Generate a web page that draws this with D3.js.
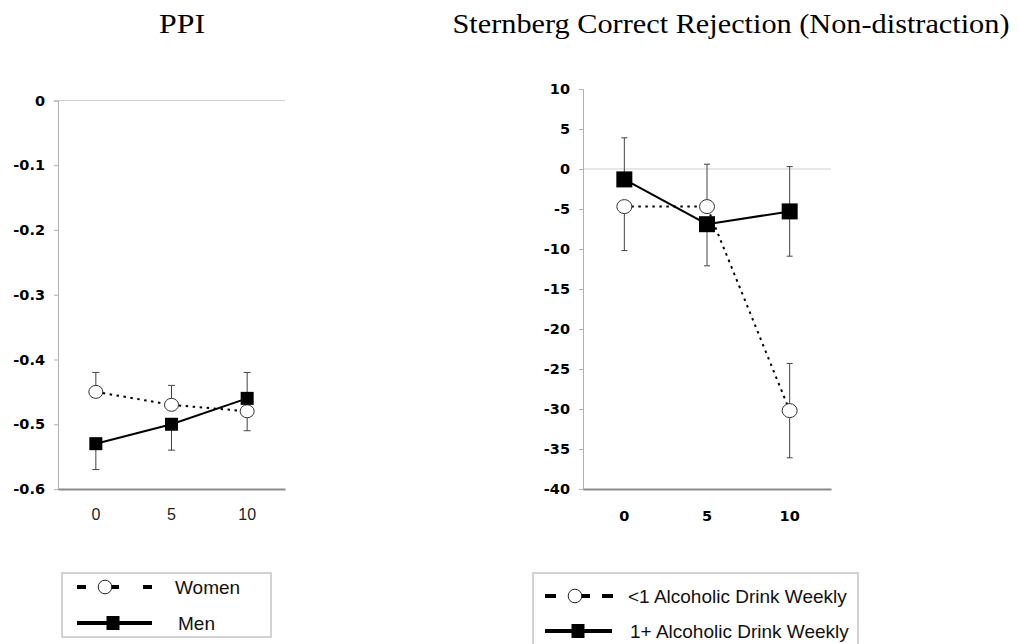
<!DOCTYPE html>
<html>
<head>
<meta charset="utf-8">
<script src="https://cdn.jsdelivr.net/npm/d3@7"></script>
<style>
  body { margin: 0; background: #fff; }
  svg { display: block; }
</style>
</head>
<body>
<div id="chart"></div>
<script>
// categories (drinks) shared by both panels
const doses = ["0", "5", "10"];

// PPI panel
const ppiTicks = [0, -0.1, -0.2, -0.3, -0.4, -0.5, -0.6];
const women = [-0.45, -0.47, -0.48];
const womenErr = [0.03, 0.03, 0.03];
const womenSide = [1, 1, -1];     // which half of the bar shows (0 = both)
const men = [-0.53, -0.50, -0.46];
const menErr = [0.04, 0.04, 0.04];
const menSide = [-1, -1, 1];

// Sternberg panel
const sternTicks = [10, 5, 0, -5, -10, -15, -20, -25, -30, -35, -40];
const lowDrink = [-4.7, -4.7, -30.2];
const lowDrinkErr = [5.5, 5.3, 5.9];
const lowDrinkSide = [-1, 1, 0];
const highDrink = [-1.3, -6.9, -5.3];
const highDrinkErr = [5.2, 5.2, 5.6];
const highDrinkSide = [1, -1, 0];

const W = 1019, H = 644;
const svg = d3.select("#chart").append("svg").attr("width", W).attr("height", H);

const tickFont = "'DejaVu Sans', sans-serif";

function panel(opt){
    const x = d3.scaleBand().domain(doses).range([opt.x0, opt.x1]);
    const y = d3.scaleLinear().domain(opt.domain).range([opt.y1, opt.y0]);
    const g = svg.append("g");

    // light gridline at zero
    g.append("line")
        .attr("x1", opt.x0).attr("x2", opt.x1)
        .attr("y1", y(0)).attr("y2", y(0))
        .attr("stroke", "#cfcfcf").attr("stroke-width", 1);

    // y axis
    const yAxis = g.append("g")
        .attr("transform", "translate(" + opt.x0 + ",0)")
        .call(d3.axisLeft(y).tickValues(opt.ticks).tickSize(4).tickPadding(9)
            .tickFormat(d => String(d)));
    yAxis.select(".domain").attr("stroke", "#b0b0b0");
    yAxis.selectAll(".tick line").attr("stroke", "#b0b0b0");
    yAxis.selectAll("text")
        .attr("font-family", tickFont).attr("font-weight", "bold")
        .attr("font-size", 14.5).attr("fill", "#000");

    // x axis
    const xAxis = g.append("g")
        .attr("transform", "translate(0," + opt.y1 + ")")
        .call(d3.axisBottom(x).tickSize(0).tickPadding(opt.xPad));
    xAxis.select(".domain").attr("stroke", "#8a8a8a").attr("stroke-width", 2);
    xAxis.selectAll("text")
        .attr("font-family", opt.xBold ? tickFont : "'Liberation Sans', Arial, sans-serif")
        .attr("font-weight", opt.xBold ? "bold" : "normal")
        .attr("font-size", opt.xBold ? 14.5 : 16)
        .attr("fill", opt.xBold ? "#000" : "#222");

    const cx = d => x(d) + x.bandwidth() / 2;

    // error bars
    function bars(vals, errs, side){
        const data = vals.map((v, i) => ({ d: doses[i], v: v, e: errs[i], s: side[i] }));
        const eg = g.append("g").attr("stroke", "#444").attr("stroke-width", 1);
        data.forEach(p => {
            const lo = p.s > 0 ? p.v : p.v - p.e;
            const hi = p.s < 0 ? p.v : p.v + p.e;
            eg.append("line").attr("x1", cx(p.d)).attr("x2", cx(p.d))
                .attr("y1", y(hi)).attr("y2", y(lo));
            if (p.s >= 0) eg.append("line").attr("x1", cx(p.d) - opt.cap).attr("x2", cx(p.d) + opt.cap)
                .attr("y1", y(hi)).attr("y2", y(hi));
            if (p.s <= 0) eg.append("line").attr("x1", cx(p.d) - opt.cap).attr("x2", cx(p.d) + opt.cap)
                .attr("y1", y(lo)).attr("y2", y(lo));
        });
    }
    bars(opt.openVals, opt.openErr, opt.openSide);
    bars(opt.fillVals, opt.fillErr, opt.fillSide);

    const line = d3.line().x((v, i) => cx(doses[i])).y(v => y(v));
    g.append("path").attr("d", line(opt.openVals))
        .attr("fill", "none").attr("stroke", "#000").attr("stroke-width", 2)
        .attr("stroke-dasharray", "2.5 4.5");
    g.append("path").attr("d", line(opt.fillVals))
        .attr("fill", "none").attr("stroke", "#000").attr("stroke-width", 2);

    g.selectAll(".open").data(opt.openVals).enter().append("ellipse")
        .attr("cx", (v, i) => cx(doses[i])).attr("cy", v => y(v))
        .attr("rx", opt.r + 0.5).attr("ry", opt.r)
        .attr("fill", "#fff").attr("stroke", "#333").attr("stroke-width", 1);
    g.selectAll(".fill").data(opt.fillVals).enter().append("rect")
        .attr("x", (v, i) => cx(doses[i]) - opt.sq / 2).attr("y", v => y(v) - opt.sq / 2)
        .attr("width", opt.sq).attr("height", opt.sq)
        .attr("fill", "#000");
}

panel({
    x0: 58, x1: 285, y0: 100.5, y1: 489, domain: [-0.6, 0], ticks: ppiTicks,
    openVals: women, openErr: womenErr, openSide: womenSide,
    fillVals: men, fillErr: menErr, fillSide: menSide,
    r: 6.5, sq: 13, cap: 3.5, xBold: false, xPad: 20
});

panel({
    x0: 583, x1: 831, y0: 89, y1: 489, domain: [-40, 10], ticks: sternTicks,
    openVals: lowDrink, openErr: lowDrinkErr, openSide: lowDrinkSide,
    fillVals: highDrink, fillErr: highDrinkErr, fillSide: highDrinkSide,
    r: 7, sq: 16, cap: 3, xBold: true, xPad: 22
});

// titles
const serif = "'Liberation Serif', 'Times New Roman', serif";
svg.append("text").text("PPI")
    .attr("x", 182).attr("y", 33).attr("text-anchor", "middle")
    .attr("font-family", serif).attr("font-size", 27)
    .attr("textLength", 46).attr("lengthAdjust", "spacingAndGlyphs");
svg.append("text").text("Sternberg Correct Rejection (Non-distraction)")
    .attr("x", 731).attr("y", 33).attr("text-anchor", "middle")
    .attr("font-family", serif).attr("font-size", 27)
    .attr("textLength", 557).attr("lengthAdjust", "spacingAndGlyphs");

// legends
function legend(box, rows){
    svg.append("rect")
        .attr("x", box.x).attr("y", box.y).attr("width", box.w).attr("height", box.h)
        .attr("fill", "#fff").attr("stroke", "#c4c4c4").attr("stroke-width", 1.5);
    rows.forEach(r => {
        const lg = svg.append("g");
        lg.append("line").attr("x1", r.l0).attr("x2", r.l1).attr("y1", r.y).attr("y2", r.y)
            .attr("stroke", "#000").attr("stroke-width", 4)
            .attr("stroke-dasharray", r.dash || null);
        if (r.open) {
            lg.append("circle").attr("cx", r.m).attr("cy", r.y).attr("r", 6.8)
                .attr("fill", "#fff").attr("stroke", "#222").attr("stroke-width", 1);
        } else {
            lg.append("rect").attr("x", r.m - 6.5).attr("y", r.y - 7).attr("width", 13).attr("height", 14)
                .attr("fill", "#000");
        }
        lg.append("text").text(r.label).attr("x", r.tx).attr("y", r.y + 7)
            .attr("font-family", "'Liberation Sans', Arial, sans-serif").attr("font-size", 19)
            .attr("fill", "#111");
    });
}

legend({ x: 62, y: 573, w: 209, h: 64 }, [
    { label: "Women", open: true, y: 587, l0: 77, l1: 152, m: 105, tx: 175, dash: "9 24 9 24 9" },
    { label: "Men", open: false, y: 623, l0: 77, l1: 152, m: 113, tx: 178 }
]);
legend({ x: 533, y: 573, w: 325, h: 80 }, [
    { label: "<1 Alcoholic Drink Weekly", open: true, y: 596, l0: 545, l1: 613, m: 575, tx: 628, dash: "11 23 11 12 11" },
    { label: "1+ Alcoholic Drink Weekly", open: false, y: 631, l0: 545, l1: 612, m: 578, tx: 630 }
]);
</script>
</body>
</html>
